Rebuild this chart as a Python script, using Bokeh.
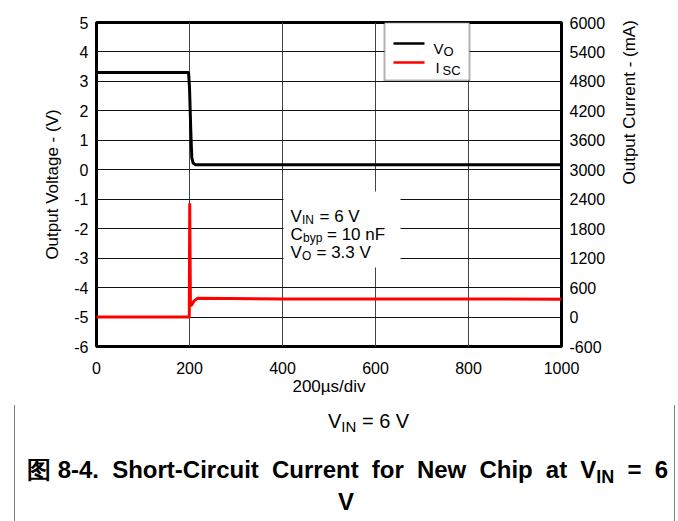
import numpy as np
from bokeh.plotting import figure
from bokeh.layouts import column
from bokeh.models import Range1d, LinearAxis, Label, BoxAnnotation, FixedTicker, Div
from bokeh.embed import file_html
from bokeh.resources import INLINE

# ---------------- data ----------------
vo_time = [0, 198, 200, 203, 205, 208, 213, 1000]
vo_volts = [3.3, 3.3, 2.8, 1.2, 0.4, 0.22, 0.17, 0.17]

isc_time = [0, 199.5, 200.5, 202, 205, 210, 218, 400, 1000]
isc_ma = [0, 0, 2320, 230, 250, 330, 385, 370, 365]

x_ticks = [0, 200, 400, 600, 800, 1000]
v_ticks = [-6, -5, -4, -3, -2, -1, 0, 1, 2, 3, 4, 5]
i_ticks = [-600, 0, 600, 1200, 1800, 2400, 3000, 3600, 4200, 4800, 5400, 6000]

# ---------------- layout helpers (page pixel -> data) ----------------
W, H_FIG, H_DIV = 678, 400, 121
FX0, FX1, FY0, FY1 = 96, 561, 22, 346
X0, X1, Y0, Y1 = 0, 1000, -6, 5


def dx(px):
    return X0 + (px - FX0) / (FX1 - FX0) * (X1 - X0)


def dy(py):
    return Y1 - (py - FY0) / (FY1 - FY0) * (Y1 - Y0)


FONT = "Liberation Sans"

p = figure(frame_width=FX1 - FX0, frame_height=FY1 - FY0,
           x_range=Range1d(X0, X1), y_range=Range1d(Y0, Y1),
           output_backend="svg", toolbar_location=None, title=None,
           min_border_left=FX0, min_border_right=W - FX1,
           min_border_top=FY0, min_border_bottom=H_FIG - FY1)
p.extra_y_ranges = {"ma": Range1d(-600, 6000)}
right_axis = LinearAxis(y_range_name="ma", ticker=FixedTicker(ticks=i_ticks))
p.add_layout(right_axis, "right")

p.background_fill_color = "white"
p.border_fill_color = "white"
p.outline_line_color = "black"
p.outline_line_width = 3

p.xaxis.ticker = FixedTicker(ticks=x_ticks)
p.left[0].ticker = FixedTicker(ticks=v_ticks)
p.left[0].major_label_overrides = {v: str(v) for v in v_ticks}
right_axis.major_label_overrides = {v: str(v) for v in i_ticks}

for ax in [p.below[0], p.left[0], right_axis]:
    ax.major_tick_in = 0
    ax.major_tick_out = 0
    ax.minor_tick_in = 0
    ax.minor_tick_out = 0
    ax.axis_line_color = None
    ax.major_label_text_font = FONT
    ax.major_label_text_font_size = "16px"
    ax.major_label_text_color = "black"
    ax.major_label_standoff = 8
    ax.axis_label_text_font = FONT
    ax.axis_label_text_font_size = "17px"
    ax.axis_label_text_font_style = "normal"
    ax.axis_label_text_color = "black"

p.below[0].axis_label = "200µs/div"
p.below[0].major_label_standoff = 15
p.below[0].axis_label_standoff = 0
p.left[0].axis_label = "Output Voltage - (V)"
p.left[0].axis_label_standoff = 9
right_axis.axis_label = "Output Current - (mA)"
right_axis.axis_label_standoff = 21
try:
    right_axis.axis_label_orientation = np.pi / 2
except Exception:
    right_axis.axis_label_orientation = "vertical"

p.xgrid.grid_line_color = "#444444"
p.xgrid.grid_line_width = 1
p.ygrid.grid_line_color = "#111111"
p.ygrid.grid_line_width = 1

# ---------------- traces ----------------
p.line(vo_time, vo_volts, line_color="black", line_width=3)
p.line(isc_time, isc_ma, line_color="#ff0000", line_width=3, y_range_name="ma")

# ---------------- legend box (manual, for subscripts) ----------------
p.add_layout(BoxAnnotation(left=dx(384), right=dx(469), top=dy(22), bottom=dy(80),
                           fill_color="white", fill_alpha=1,
                           line_color="black", line_width=2))
p.add_layout(BoxAnnotation(left=dx(393), right=dx(424), top=dy(41.8), bottom=dy(44.2),
                           fill_color="black", fill_alpha=1, line_color=None))
p.add_layout(BoxAnnotation(left=dx(393), right=dx(424), top=dy(60.8), bottom=dy(63.2),
                           fill_color="#ff0000", fill_alpha=1, line_color=None))

# annotation box
p.add_layout(BoxAnnotation(left=dx(283), right=dx(400), top=dy(191), bottom=dy(267),
                           fill_color="white", fill_alpha=1, line_color=None))


def txt(text, px, py, size, style="normal", align="left"):
    p.add_layout(Label(x=dx(px), y=dy(py), text=text, text_font=FONT,
                       text_font_size=f"{size}px", text_font_style=style,
                       text_color="black", text_align=align,
                       text_baseline="alphabetic"))


# legend texts
txt("V", 433, 48, 15)
txt("O", 443, 51, 13)
txt("I", 435, 67, 15)
txt("SC", 442, 70, 13)

# annotation texts
txt("V", 290, 216, 17)
txt("IN", 301.5, 219.5, 12)
txt("= 6 V", 319, 216, 17)
txt("C", 290, 234, 17)
txt("byp", 302.5, 237.5, 12)
txt("= 10 nF", 326.5, 234, 17)
txt("V", 290, 252, 17)
txt("O", 301.5, 255.5, 12)
txt("= 3.3 V", 316, 252, 17)

# ---------------- outer thin grey frame (lower part) ----------------
G = "linear-gradient(#808080,#808080)"
BL, BR, BB = 9, 669, 517
div_bg = (f"{G} {BL}px 0px/1px {BB - H_FIG + 1}px no-repeat, "
          f"{G} {BR}px 0px/1px {BB - H_FIG + 1}px no-repeat, "
          f"{G} {BL}px {BB - H_FIG}px/{BR - BL + 1}px 1px no-repeat, #ffffff")


# ---------------- caption + figure title (HTML, for subscripts) ----------------
def top_for(baseline_page_y, size):
    return baseline_page_y - H_FIG - 0.8465 * size


cap_sub = "font-size:15px;vertical-align:-4px;line-height:0;"
ttl_sub = "font-size:18px;vertical-align:-5px;line-height:0;"
tfont = "font-family:'Liberation Sans',sans-serif;font-weight:bold;"
html = f"""
<div style="position:relative;width:{W}px;height:{H_DIV}px;color:#000;">
  <div style="position:absolute;left:323px;top:{top_for(423, 20):.1f}px;
              font-family:'Liberation Sans',sans-serif;font-size:20px;line-height:20px;
              white-space:nowrap;">V<sub style="{cap_sub}">IN</sub> = 6 V</div>
  <div style="position:absolute;left:22px;top:{top_for(473, 24):.1f}px;width:641px;
              {tfont}font-size:24px;line-height:24px;white-space:nowrap;
              text-align:justify;text-align-last:justify;"><span style="display:inline-block;">图 8-4.</span> Short-Circuit Current for New Chip at V<sub style="{ttl_sub}">IN</sub> = 6</div>
  <div style="position:absolute;left:22px;top:{top_for(505, 24):.1f}px;width:638px;
              {tfont}font-size:24px;line-height:24px;text-align:center;">V</div>
</div>
"""
div = Div(text=html, width=W, height=H_DIV, styles={"background": div_bg})

layout = column(p, div, spacing=0)
open("out.html", "w").write(file_html(layout, INLINE))
